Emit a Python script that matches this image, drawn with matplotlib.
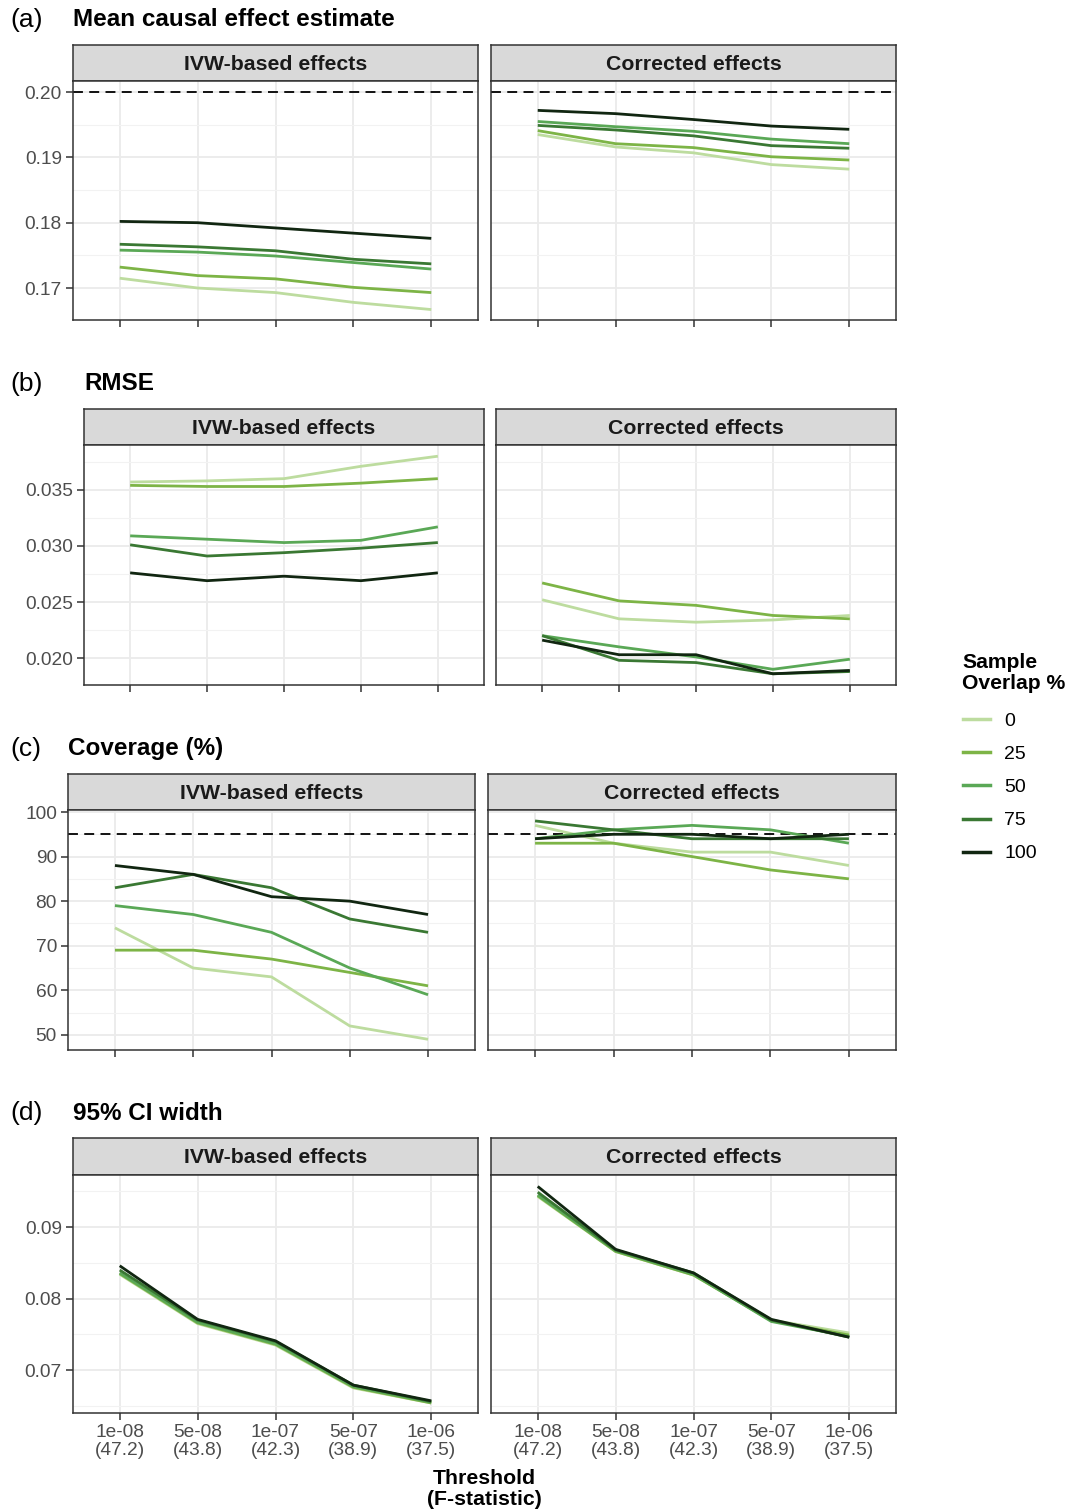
import numpy as np
import matplotlib
matplotlib.use("Agg")
import matplotlib.pyplot as plt
from matplotlib.lines import Line2D

plt.rcParams['font.family'] = ['Liberation Sans', 'DejaVu Sans']

# data
thresholds = ["1e-08\n(47.2)", "5e-08\n(43.8)", "1e-07\n(42.3)", "5e-07\n(38.9)", "1e-06\n(37.5)"]
overlaps = ["0", "25", "50", "75", "100"]
colors = ["#bddc9f", "#7db446", "#5aa856", "#3a7833", "#112611"]
facets = ["IVW-based effects", "Corrected effects"]

mean_ivw = [
    [0.1715, 0.1700, 0.1693, 0.1678, 0.1667],
    [0.1732, 0.1719, 0.1714, 0.1701, 0.1693],
    [0.1758, 0.1755, 0.1749, 0.1739, 0.1729],
    [0.1767, 0.1763, 0.1757, 0.1744, 0.1737],
    [0.1802, 0.1800, 0.1792, 0.1784, 0.1776],
]
mean_corr = [
    [0.1935, 0.1916, 0.1907, 0.1889, 0.1882],
    [0.1941, 0.1921, 0.1915, 0.1901, 0.1896],
    [0.1955, 0.1947, 0.1940, 0.1928, 0.1921],
    [0.1949, 0.1942, 0.1933, 0.1918, 0.1914],
    [0.1972, 0.1967, 0.1958, 0.1948, 0.1943],
]
rmse_ivw = [
    [0.0357, 0.0358, 0.0360, 0.0371, 0.0380],
    [0.0354, 0.0353, 0.0353, 0.0356, 0.0360],
    [0.0309, 0.0306, 0.0303, 0.0305, 0.0317],
    [0.0301, 0.0291, 0.0294, 0.0298, 0.0303],
    [0.0276, 0.0269, 0.0273, 0.0269, 0.0276],
]
rmse_corr = [
    [0.0252, 0.0235, 0.0232, 0.0234, 0.0238],
    [0.0267, 0.0251, 0.0247, 0.0238, 0.0235],
    [0.0220, 0.0210, 0.0201, 0.0190, 0.0199],
    [0.0220, 0.0198, 0.0196, 0.0186, 0.0188],
    [0.0216, 0.0203, 0.0203, 0.0186, 0.0189],
]
cov_ivw = [
    [74, 65, 63, 52, 49],
    [69, 69, 67, 64, 61],
    [79, 77, 73, 65, 59],
    [83, 86, 83, 76, 73],
    [88, 86, 81, 80, 77],
]
cov_corr = [
    [97, 93, 91, 91, 88],
    [93, 93, 90, 87, 85],
    [94, 96, 97, 96, 93],
    [98, 96, 94, 94, 94],
    [94, 95, 95, 94, 95],
]
ciw_ivw = [
    [0.0834, 0.0765, 0.0735, 0.0675, 0.0654],
    [0.0835, 0.0766, 0.0736, 0.0676, 0.0654],
    [0.0836, 0.0767, 0.0737, 0.0677, 0.0655],
    [0.0840, 0.0770, 0.0740, 0.0679, 0.0656],
    [0.0846, 0.0771, 0.0741, 0.0679, 0.0657],
]
ciw_corr = [
    [0.0943, 0.0866, 0.0833, 0.0770, 0.0752],
    [0.0944, 0.0866, 0.0833, 0.0769, 0.0749],
    [0.0945, 0.0867, 0.0834, 0.0768, 0.0747],
    [0.0949, 0.0868, 0.0836, 0.0770, 0.0746],
    [0.0957, 0.0869, 0.0836, 0.0771, 0.0746],
]

W, H = 1070, 1511
fig = plt.figure(figsize=(W / 100, H / 100), dpi=100)


def box(x0, y0, x1, y1):
    return [x0 / W, 1 - y1 / H, (x1 - x0) / W, (y1 - y0) / H]


# row settings: letter, title, data pair, ylim, major ticks, minor ticks, fmt, ref line, x edges, y edges
rows = [
    ("(a)", "Mean causal effect estimate", (mean_ivw, mean_corr), (0.1651, 0.2017),
     [0.17, 0.18, 0.19, 0.20], [0.175, 0.185, 0.195], "{:.2f}", 0.20,
     [(73, 478), (491, 896)], (20, 45, 81, 320)),
    ("(b)", "RMSE", (rmse_ivw, rmse_corr), (0.0176, 0.0390),
     [0.020, 0.025, 0.030, 0.035], [0.0225, 0.0275, 0.0325, 0.0375], "{:.3f}", None,
     [(84, 484), (496, 896)], (384, 409, 445, 685)),
    ("(c)", "Coverage (%)", (cov_ivw, cov_corr), (46.6, 100.45),
     [50, 60, 70, 80, 90, 100], [55, 65, 75, 85, 95], "{:.0f}", 95,
     [(68, 475), (488, 896)], (749, 774, 810, 1050)),
    ("(d)", "95% CI width", (ciw_ivw, ciw_corr), (0.0640, 0.0973),
     [0.07, 0.08, 0.09], [0.065, 0.075, 0.085, 0.095], "{:.2f}", None,
     [(73, 478), (491, 896)], (1113, 1138, 1175, 1413)),
]

x = np.arange(len(thresholds))
border = "#333333"

for ri, (letter, title, data, ylim, yt, ymt, fmt, ref, xedges, yedges) in enumerate(rows):
    ty, st, pt, pb = yedges
    fig.text(10 / W, 1 - ty / H, letter, fontsize=19, va="center", ha="left")
    fig.text(xedges[0][0] / W, 1 - ty / H, title, fontsize=17.5, fontweight="bold",
             va="center", ha="left")
    for fi, (x0, x1) in enumerate(xedges):
        # strip
        sax = fig.add_axes(box(x0, st, x1, pt))
        sax.set_facecolor("#d9d9d9")
        sax.set_xticks([])
        sax.set_yticks([])
        for s in sax.spines.values():
            s.set_color(border)
            s.set_linewidth(1.1)
        sax.text(0.5, 0.47, facets[fi], transform=sax.transAxes, ha="center", va="center",
                 fontsize=15.3, fontweight="bold", color="#1a1a1a")

        ax = fig.add_axes(box(x0, pt, x1, pb))
        ax.set_xlim(-0.6, len(thresholds) - 1 + 0.6)
        ax.set_ylim(*ylim)
        ax.set_xticks(x)
        ax.set_yticks(yt)
        ax.set_yticks(ymt, minor=True)
        ax.set_axisbelow(True)
        ax.grid(which="major", color="#ebebeb", lw=1.3)
        ax.grid(which="minor", axis="y", color="#f2f2f2", lw=0.8)
        ax.tick_params(which="minor", length=0)
        ax.tick_params(which="major", length=5, width=1.1, color=border,
                       labelsize=13.8, labelcolor="#4d4d4d", pad=3)
        for s in ax.spines.values():
            s.set_color(border)
            s.set_linewidth(1.1)
        if fi == 0:
            ax.set_yticklabels([fmt.format(v) for v in yt])
        else:
            ax.set_yticklabels([])
            ax.tick_params(axis="y", length=0)
        if ri == 3:
            ax.set_xticklabels(thresholds, linespacing=1.1)
        else:
            ax.set_xticklabels([])
        if ref is not None:
            ax.axhline(ref, color="black", lw=1.3, ls=(0, (5.5, 3.5)), zorder=1)
        for ci, series in enumerate(data[fi]):
            ax.plot(x, series, color=colors[ci], lw=2.0, solid_capstyle="butt", zorder=2)

fig.text(484 / W, 1 - 1489 / H, "Threshold\n(F-statistic)", fontsize=15.3, fontweight="bold",
         ha="center", va="center", linespacing=1.15)

handles = [Line2D([], [], color=c, lw=2.5) for c in colors]
leg = fig.legend(handles, overlaps, title="Sample\nOverlap %", loc="upper left",
                 bbox_to_anchor=(945 / W, 1 - 635 / H), frameon=False, fontsize=14,
                 title_fontproperties={"weight": "bold", "size": 15.2}, alignment="left",
                 handlelength=1.4, handletextpad=0.75, labelspacing=0.8)
leg.get_title().set_linespacing(1.15)
leg._legend_box.sep = 14

fig.savefig("out.png", dpi=100)
